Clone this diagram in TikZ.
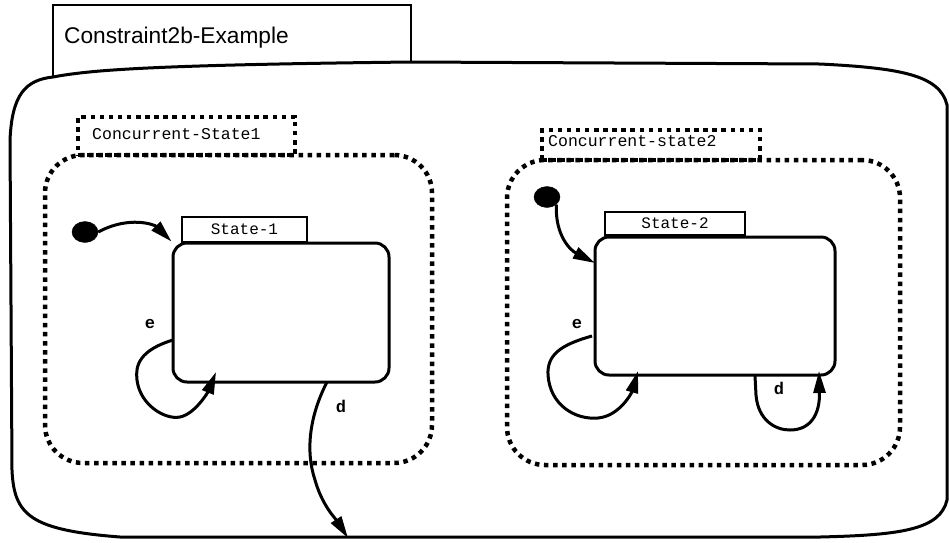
\documentclass[tikz,border=0pt]{standalone}
\usepackage{fontspec}
\setmainfont{Liberation Sans}
\setmonofont{Liberation Mono}
\usetikzlibrary{arrows.meta,shapes.geometric}
\begin{document}
\begin{tikzpicture}[x=1pt,y=-1pt,
  solidline/.style={line width=3pt},
  tabline/.style={line width=2.4pt},
  dotline/.style={line width=4.5pt,dash pattern=on 4.5pt off 4.6pt},
  statebox/.style={draw,solidline,rectangle,rounded corners=14pt,inner sep=0pt},
  regionbox/.style={draw,dotline,rectangle,rounded corners=38pt,inner sep=0pt},
  dottab/.style={draw,dotline,rectangle,inner sep=0pt},
  statetab/.style={draw,tabline,rectangle,inner sep=0pt,font=\ttfamily\fontsize{16}{18}\selectfont},
  tlabel/.style={font=\ttfamily\bfseries\fontsize{17}{19}\selectfont,inner sep=0pt},
  initdot/.style={draw,fill=black,ellipse,inner sep=0pt},
  trans/.style={solidline,-{Triangle[length=22pt,width=12pt]}},
  loopline/.style={solidline,-{Triangle[length=22pt,width=12pt]}}]
\useasboundingbox (0,0) rectangle (949,542);
% title tab
\draw[tabline] (53,77) -- (53,5) -- (411,5) -- (411,62);
\node[anchor=west,inner sep=0pt,font=\fontsize{22.7}{26}\selectfont] (title) at (64,38) {Constraint2b-Example};
% outer box
\draw[solidline] (53,77) .. controls (90,70) and (150,65) .. (411,62)
  -- (820,64) .. controls (900,68) and (940,75) .. (947,105)
  -- (947,500) .. controls (940,530) and (900,535) .. (820,537)
  -- (120,537) .. controls (30,530) and (14,515) .. (12,470)
  -- (10,140) .. controls (12,95) and (25,80) .. (53,77);
% concurrent regions
\node[regionbox,minimum width=387pt,minimum height=308pt] (cs1) at (238.5,309) {};
\node[dottab,minimum width=217pt,minimum height=38pt] (cs1tab) at (186.5,136) {};
\node[anchor=west,inner sep=0pt,font=\ttfamily\fontsize{16.5}{18}\selectfont] (cs1lbl) at (92,134) {Concurrent-State1};
\node[regionbox,minimum width=393pt,minimum height=305pt] (cs2) at (703.5,312.5) {};
\node[dottab,minimum width=218pt,minimum height=30pt] (cs2tab) at (651,145) {};
\node[anchor=west,inner sep=0pt,font=\ttfamily\fontsize{16.5}{18}\selectfont] (cs2lbl) at (548,141) {Concurrent-state2};
% state 1
\node[statetab,minimum width=125pt,minimum height=25pt] (s1tab) at (244.5,229.5) {State-1};
\node[statebox,fill=white,minimum width=216pt,minimum height=139pt] (s1) at (281,312.5) {};
\node[initdot,minimum width=26pt,minimum height=21pt] (init1) at (85,232) {};
\draw[trans] (init1.east) .. controls (130,215) and (155,225) .. (s1.north west);
\coordinate (e1s) at (173,340);
\coordinate (e1t) at (216,372);
\draw[loopline] (e1s) .. controls (140,350) and (135,365) .. (137,380)
  .. controls (140,405) and (165,420) .. (180,417)
  .. controls (195,414) and (208,392) .. (e1t);
\node[tlabel] (e1) at (150,324) {e};
\coordinate (d1s) at (327,382);
\coordinate (d1t) at (348,538);
\draw[trans] (d1s) .. controls (310,415) and (305,450) .. (315,480)
  .. controls (322,505) and (335,518) .. (d1t);
\node[tlabel] (d1) at (341,406) {d};
% state 2
\node[statetab,minimum width=140pt,minimum height=23pt] (s2tab) at (675,223.5) {State-2};
\node[statebox,fill=white,minimum width=240pt,minimum height=138pt] (s2) at (715,306) {};
\node[initdot,minimum width=26pt,minimum height=21pt] (init2) at (547,197) {};
\coordinate (i2t) at (595,263);
\draw[trans] (init2.south east) .. controls (555,235) and (570,250) .. (i2t);
\coordinate (e2s) at (592,336);
\coordinate (e2t) at (638,371);
\draw[loopline] (e2s) .. controls (560,345) and (547,355) .. (548,375)
  .. controls (550,405) and (575,420) .. (598,418)
  .. controls (620,416) and (632,392) .. (e2t);
\node[tlabel] (e2) at (577,324) {e};
\coordinate (d2s) at (755,376);
\coordinate (d2t) at (819,371);
\draw[loopline] (d2s) -- (756,395) .. controls (758,420) and (775,430) .. (790,430)
  .. controls (810,430) and (820,415) .. (d2t);
\node[tlabel] (d2) at (779,388) {d};
\end{tikzpicture}
\end{document}
